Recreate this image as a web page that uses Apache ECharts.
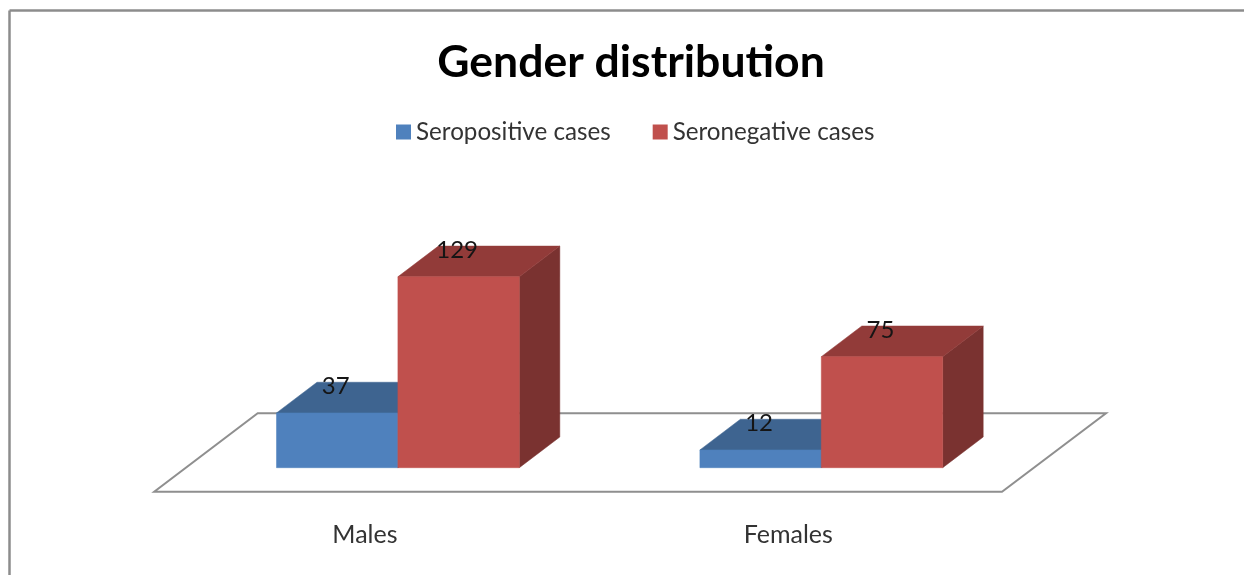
<!DOCTYPE html>
<html>
<head>
<meta charset="utf-8">
<title>Gender distribution</title>
<style>
html, body { margin: 0; padding: 0; background: #fff; }
#chart { width: 1244px; height: 575px; }
</style>
<script src="https://cdn.jsdelivr.net/npm/echarts@6/dist/echarts.min.js"></script>
</head>
<body>
<div id="chart"></div>
<script>
var categories = ["Males", "Females"];
var seropositive = [37, 12];
var seronegative = [129, 75];

var FONT = "Lato";
var DEPTH_X = 40.5, DEPTH_Y = 30.7; // 3d look, offset of the back face
var BAR_W = 121.4;

function shape3d(points, color) {
	return {
		type: "polygon",
		shape: { points: points },
		style: { fill: color, stroke: color, lineWidth: 0.5 }
	};
}

// one bar = front + top + side, offset left or right of the category centre
function barRender(offset, colors) {
	return function(params, api) {
		var bottom = api.coord([api.value(0), 0]);
		var top = api.coord([api.value(0), api.value(1)]);
		var x0 = bottom[0] + offset * BAR_W - BAR_W / 2;
		var x1 = x0 + BAR_W;
		var y0 = bottom[1], y1 = top[1];
		return {
			type: "group",
			children: [
				shape3d([[x1, y0], [x1 + DEPTH_X, y0 - DEPTH_Y], [x1 + DEPTH_X, y1 - DEPTH_Y], [x1, y1]], colors.side),
				shape3d([[x0, y1], [x0 + DEPTH_X, y1 - DEPTH_Y], [x1 + DEPTH_X, y1 - DEPTH_Y], [x1, y1]], colors.top),
				shape3d([[x0, y0], [x1, y0], [x1, y1], [x0, y1]], colors.front),
				{
					type: "text",
					z2: 10,
					style: {
						text: String(api.value(1)),
						x: (x0 + x1) / 2 - 1.5,
						y: y1 - 26.5,
						align: "center",
						verticalAlign: "middle",
						fill: "#151515",
						font: "24px " + FONT
					}
				}
			]
		};
	};
}

// floor plane behind the bars, hung on the grid rectangle
function floorRender(params, api) {
	var cs = params.coordSys;
	var zero = api.coord([0, 0])[1];
	var frontY = zero + 24, backY = zero - 54.4;
	return {
		type: "polygon",
		shape: {
			points: [
				[cs.x - 32, frontY],
				[cs.x + cs.width - 31, frontY],
				[cs.x + cs.width + 73, backY],
				[cs.x + 71.5, backY]
			]
		},
		style: { fill: "#fff", stroke: "#8f8f8f", lineWidth: 2 }
	};
}

var chart = echarts.init(document.getElementById("chart"));
chart.setOption({
	animation: false,
	backgroundColor: "#fff",
	title: {
		text: "Gender distribution",
		left: 631,
		top: 63,
		padding: 0,
		textAlign: "center",
		textVerticalAlign: "middle",
		textStyle: { fontFamily: FONT, fontWeight: "bold", fontSize: 44.5, color: "#000" }
	},
	legend: {
		data: ["Seropositive cases", "Seronegative cases"],
		left: 396,
		top: 120,
		padding: 0,
		icon: "rect",
		itemWidth: 15,
		itemHeight: 15,
		itemGap: 42,
		textStyle: { fontFamily: FONT, fontSize: 24.2, color: "#333" }
	},
	grid: { left: 186.2, top: 245.7, width: 846.8, height: 222 },
	xAxis: {
		type: "category",
		data: categories,
		axisLine: { show: false },
		axisTick: { show: false },
		axisLabel: {
			margin: 55,
			padding: [0, 66, 0, 0],
			fontFamily: FONT,
			fontSize: 25,
			color: "#333"
		}
	},
	yAxis: { type: "value", min: 0, max: 150, show: false, splitLine: { show: false } },
	graphic: [
		{ type: "line", silent: true, shape: { x1: 9.5, y1: 10.5, x2: 1244, y2: 10.5 }, style: { stroke: "#8c8c8c", lineWidth: 2.5 } },
		{ type: "line", silent: true, shape: { x1: 9.5, y1: 10.5, x2: 9.5, y2: 575 }, style: { stroke: "#8c8c8c", lineWidth: 2.5 } }
	],
	series: [
		{
			name: "floor",
			type: "custom",
			silent: true,
			clip: false,
			z: 1,
			data: [[0, 0]],
			renderItem: floorRender
		},
		{
			name: "Seropositive cases",
			type: "custom",
			clip: false,
			z: 2,
			itemStyle: { color: "#4F81BD" },
			encode: { x: 0, y: 1 },
			data: categories.map(function(c, i) { return [i, seropositive[i]]; }),
			renderItem: barRender(-0.5, { front: "#4F81BD", top: "#3E6490", side: "#335377" })
		},
		{
			name: "Seronegative cases",
			type: "custom",
			clip: false,
			z: 3,
			itemStyle: { color: "#C0504D" },
			encode: { x: 0, y: 1 },
			data: categories.map(function(c, i) { return [i, seronegative[i]]; }),
			renderItem: barRender(0.5, { front: "#C0504D", top: "#923B39", side: "#7A3230" })
		}
	]
});
</script>
</body>
</html>
